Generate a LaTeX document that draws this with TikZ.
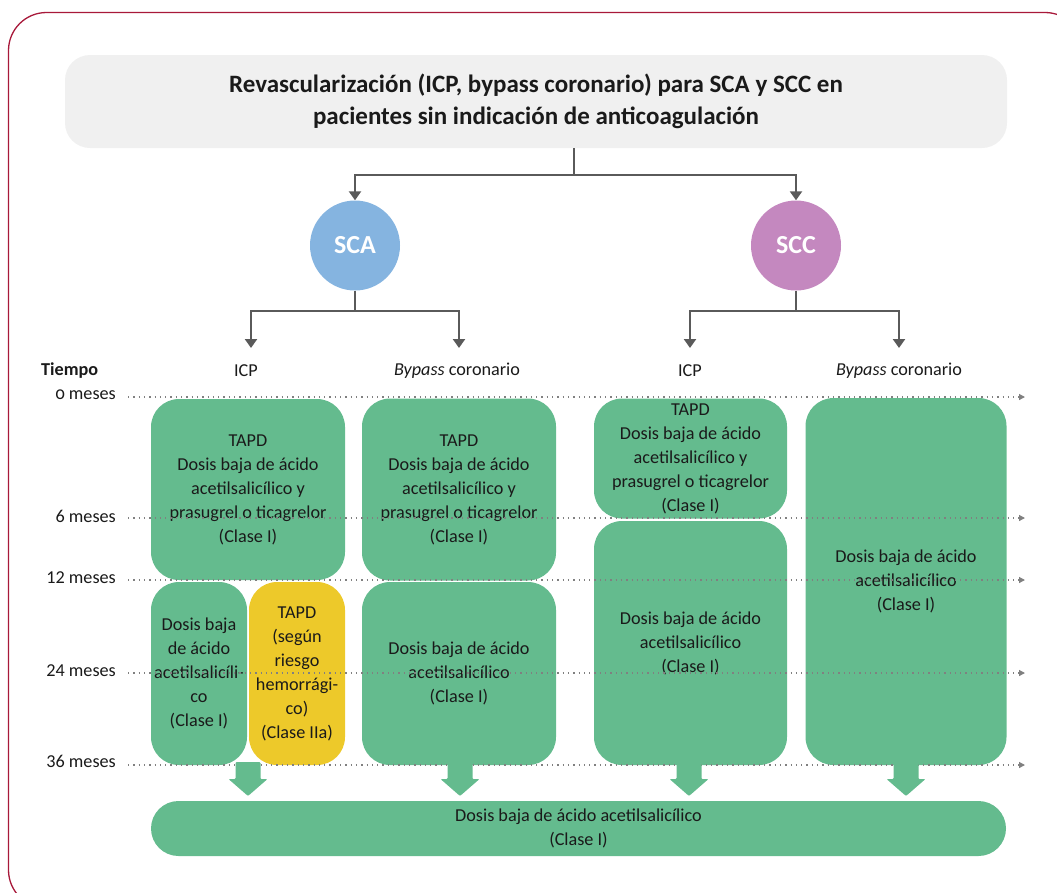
\documentclass[tikz,border=0pt]{standalone}
\usepackage{fontspec}
\setmainfont{Carlito}
\newfontfamily\oldnum[Numbers=OldStyle]{Carlito}
\usetikzlibrary{arrows.meta}
\definecolor{fgreen}{HTML}{64BB8E}
\definecolor{fyellow}{HTML}{EDC92A}
\definecolor{fblue}{HTML}{85B4E0}
\definecolor{fpurple}{HTML}{C488BF}
\definecolor{fgray}{HTML}{F0F0F0}
\definecolor{fconn}{HTML}{5A5A5A}
\definecolor{fframe}{HTML}{A8193A}
\definecolor{fdot}{HTML}{808080}
\definecolor{ftext}{HTML}{1A1A1A}
\tikzset{
  titlebox/.style={fill=fgray, rounded corners=25pt, inner sep=0pt, align=center, text=ftext,
    font=\fontsize{25}{32}\selectfont\bfseries},
  circ/.style={circle, inner sep=0pt, minimum size=90pt, text=white,
    font=\fontsize{26}{28}\selectfont\bfseries},
  conn/.style={draw=fconn, line width=2.6pt},
  connarr/.style={conn, -{Triangle[width=12pt,length=9pt]}},
  body/.style={font=\fontsize{18.2}{24}\selectfont, text=ftext, align=center},
  gbox/.style={body, fill=fgreen, rounded corners=28pt, inner sep=0pt},
  ybox/.style={body, fill=fyellow, rounded corners=28pt, inner sep=0pt},
  dotline/.style={draw=fdot, line width=1.3pt, dash pattern=on 1.3pt off 4pt,
    -{Triangle[width=6pt,length=6pt]}},
  tlabel/.style={body, anchor=east, inner sep=0pt},
  downarrow/.pic={\fill[fgreen, rounded corners=1pt] (-12.5,-3) -- (12.5,-3) -- (12.5,14) -- (19.5,14)
    -- (0,31) -- (-19.5,14) -- (-12.5,14) -- cycle;}
}
\begin{document}
\begin{tikzpicture}[x=1pt,y=-1pt]
\useasboundingbox (0,0) rectangle (1057,892);
\clip (0,0) rectangle (1057,892);
\draw[fframe, line width=1.3pt, rounded corners=38pt] (8.5,12.5) rectangle (1083,908);

% title
\node[titlebox, minimum width=942pt, minimum height=93pt] (title) at (536,101.5)
  {Revascularización (ICP, bypass coronario) para SCA y SCC en\\pacientes sin indicación de anticoagulación};

% circles
\node[circ, fill=fblue] (sca) at (355,245.5) {SCA};
\node[circ, fill=fpurple] (scc) at (796,245.5) {SCC};

\coordinate (j1) at (574,175);
\draw[conn] (title.south -| j1) -- (j1);
\draw[connarr] (j1) -| (sca.north);
\draw[connarr] (j1) -| (scc.north);

\coordinate (s1) at (355,311);
\coordinate (s2) at (796,311);
\coordinate (ea) at (251,348);
\coordinate (eb) at (459,348);
\coordinate (ec) at (690,348);
\coordinate (ed) at (899,348);
\draw[conn] (sca.south) -- (s1);
\draw[connarr] (s1) -| (ea);
\draw[connarr] (s1) -| (eb);
\draw[conn] (scc.south) -- (s2);
\draw[connarr] (s2) -| (ec);
\draw[connarr] (s2) -| (ed);

% column labels
\node[body] (la) at (246,371) {ICP};
\node[body] (lb) at (457,371) {\textit{Bypass} coronario};
\node[body] (lc) at (690,371) {ICP};
\node[body] (ld) at (899,371) {\textit{Bypass} coronario};

% time labels
\node[tlabel, anchor=west, font=\fontsize{18.2}{24}\selectfont\bfseries] (tiempo) at (41,371) {Tiempo};
\node[tlabel] (t0) at (116,395) {{\oldnum 0} meses};
\node[tlabel] (t6) at (116,516.5) {6 meses};
\node[tlabel] (t12) at (116,578) {12 meses};
\node[tlabel] (t24) at (116,671) {24 meses};
\node[tlabel] (t36) at (116,761) {36 meses};

% boxes
\node[gbox, minimum width=194pt, minimum height=181pt] (a1) at (248,489.5)
  {TAPD\\Dosis baja de ácido\\acetilsalicílico y\\prasugrel o ticagrelor\\(Clase I)};
\node[gbox, minimum width=96pt, minimum height=183pt] (a2) at (199,673.5)
  {Dosis baja\\de ácido\\acetilsalicíli-\\co\\(Clase I)};
\node[ybox, minimum width=96pt, minimum height=183pt] (a3) at (297,673.5)
  {TAPD\\(según\\riesgo\\hemorrági-\\co)\\(Clase IIa)};
\node[gbox, minimum width=194pt, minimum height=182pt] (b1) at (459,489.5)
  {TAPD\\Dosis baja de ácido\\acetilsalicílico y\\prasugrel o ticagrelor\\(Clase I)};
\node[gbox, minimum width=194pt, minimum height=183pt] (b2) at (459,673.5)
  {Dosis baja de ácido\\acetilsalicílico\\(Clase I)};
\node[gbox, minimum width=193pt, minimum height=120pt] (c1) at (690.5,458.5)
  {TAPD\\Dosis baja de ácido\\acetilsalicílico y\\prasugrel o ticagrelor\\(Clase I)};
\node[gbox, minimum width=193pt, minimum height=244pt] (c2) at (690.5,643)
  {Dosis baja de ácido\\acetilsalicílico\\(Clase I)};
\node[gbox, minimum width=201pt, minimum height=367pt] (d1) at (906,581.5)
  {Dosis baja de ácido\\acetilsalicílico\\(Clase I)};
\node[gbox, rounded corners=27.5pt, minimum width=855pt, minimum height=55pt] (bar) at (578.5,828.5)
  {Dosis baja de ácido acetilsalicílico\\(Clase I)};

% dotted time lines
\foreach \n/\y in {t0/397, t6/518, t12/580, t24/673, t36/765} {
  \coordinate (\n s) at (128,\y);
  \coordinate (\n e) at (1025,\y);
  \draw[dotline] (\n s) -- (\n e);
}

% block arrows
\pic at (248,765) {downarrow};
\pic at (460,765) {downarrow};
\pic at (689,765) {downarrow};
\pic at (906,765) {downarrow};
\end{tikzpicture}
\end{document}
